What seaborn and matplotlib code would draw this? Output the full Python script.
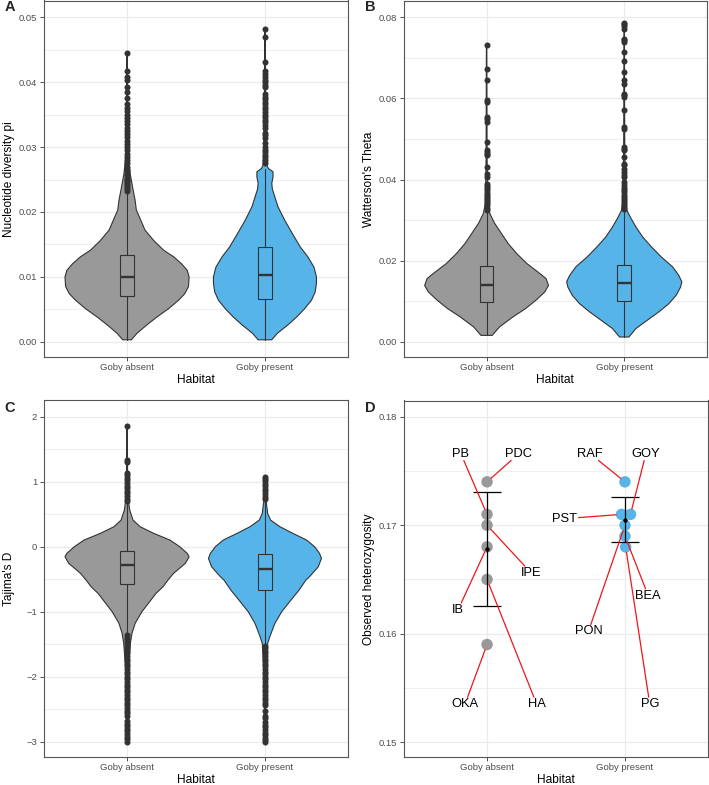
import numpy as np
import pandas as pd
import matplotlib
matplotlib.use("Agg")
import matplotlib.pyplot as plt
import seaborn as sns

# ---------------------------------------------------------------- data
habitats = ["Goby absent", "Goby present"]
habitat_colors = ["#999999", "#56B4E9"]

# Panel A: nucleotide diversity pi  (violin outline: value, relative density)
a_abs_vals = [0.0003, 0.0013, 0.0026, 0.0038, 0.0051, 0.0064, 0.0074, 0.0085, 0.0100, 0.0110,
              0.0120, 0.0131, 0.0141, 0.0156, 0.0172, 0.0192, 0.0203, 0.0218, 0.0238, 0.0259,
              0.0280, 0.0320, 0.0380, 0.0445]
a_abs_dens = [0.07, 0.16, 0.32, 0.48, 0.67, 0.83, 0.93, 0.99, 1.00, 0.97,
              0.88, 0.75, 0.59, 0.43, 0.29, 0.20, 0.15, 0.13, 0.09, 0.05,
              0.027, 0.013, 0.006, 0.003]
a_pre_vals = [0.0003, 0.0013, 0.0026, 0.0038, 0.0051, 0.0064, 0.0077, 0.0090, 0.0100, 0.0115,
              0.0131, 0.0146, 0.0167, 0.0187, 0.0208, 0.0223, 0.0235, 0.0244, 0.0254, 0.0262,
              0.0267, 0.0272, 0.0300, 0.0400, 0.0482]
a_pre_dens = [0.11, 0.20, 0.37, 0.51, 0.64, 0.75, 0.81, 0.83, 0.83, 0.79,
              0.69, 0.57, 0.44, 0.32, 0.21, 0.16, 0.12, 0.11, 0.13, 0.13,
              0.056, 0.032, 0.016, 0.006, 0.003]
# box stats: whisker low, q1, median, q3, whisker high
a_abs_box = [0.0003, 0.0070, 0.0100, 0.0134, 0.0229]
a_pre_box = [0.0003, 0.0066, 0.0103, 0.0146, 0.0266]
a_abs_out = [0.0232, 0.0235, 0.0238, 0.0241, 0.0244, 0.0247, 0.0250, 0.0253, 0.0257, 0.0261,
             0.0265, 0.0270, 0.0275, 0.0280, 0.0285, 0.0290, 0.0295, 0.0300, 0.0305, 0.0310,
             0.0315, 0.0320, 0.0325, 0.0330, 0.0335, 0.0340, 0.0345, 0.0350, 0.0355, 0.0360,
             0.0366, 0.0376, 0.0385, 0.0392, 0.0403, 0.0408, 0.0417, 0.0445]
a_pre_out = [0.0275, 0.0280, 0.0284, 0.0288, 0.0292, 0.0296, 0.0300, 0.0306, 0.0314, 0.0318,
             0.0322, 0.0330, 0.0334, 0.0338, 0.0342, 0.0346, 0.0350, 0.0354, 0.0358, 0.0362,
             0.0366, 0.0370, 0.0374, 0.0378, 0.0382, 0.0392, 0.0396, 0.0400, 0.0404, 0.0408,
             0.0413, 0.0418, 0.0431, 0.0469, 0.0482]
a_yticks = [0.00, 0.01, 0.02, 0.03, 0.04, 0.05]
a_yticklabels = ["0.00", "0.01", "0.02", "0.03", "0.04", "0.05"]
a_yminor = [0.005, 0.015, 0.025, 0.035, 0.045]
a_ylim = (-0.0024, 0.0526)

# Panel B: Watterson's theta
b_abs_vals = [0.0016, 0.0037, 0.0062, 0.0082, 0.0103, 0.0123, 0.0139, 0.0156, 0.0172, 0.0193,
              0.0217, 0.0242, 0.0267, 0.0292, 0.0316, 0.0340, 0.0450, 0.0732]
b_abs_dens = [0.09, 0.21, 0.43, 0.63, 0.80, 0.94, 1.00, 0.96, 0.83, 0.65,
              0.49, 0.35, 0.24, 0.13, 0.053, 0.021, 0.008, 0.003]
b_pre_vals = [0.0012, 0.0033, 0.0053, 0.0074, 0.0094, 0.0115, 0.0135, 0.0148, 0.0164, 0.0185,
              0.0209, 0.0234, 0.0258, 0.0283, 0.0304, 0.0324, 0.0350, 0.0500, 0.0785]
b_pre_dens = [0.075, 0.19, 0.37, 0.56, 0.72, 0.84, 0.91, 0.93, 0.88, 0.78,
              0.60, 0.44, 0.30, 0.19, 0.11, 0.043, 0.019, 0.008, 0.003]
b_abs_box = [0.0016, 0.0099, 0.0141, 0.0187, 0.0318]
b_pre_box = [0.0012, 0.0101, 0.0146, 0.0190, 0.0323]
b_abs_out = [0.0324, 0.0330, 0.0336, 0.0341, 0.0347, 0.0352, 0.0357, 0.0362, 0.0367, 0.0373,
             0.0378, 0.0383, 0.0390, 0.0406, 0.0414, 0.0432, 0.0460, 0.0464, 0.0468, 0.0472,
             0.0492, 0.0542, 0.0550, 0.0554, 0.0591, 0.0595, 0.0644, 0.0673, 0.0732]
b_pre_out = [0.0327, 0.0332, 0.0337, 0.0342, 0.0347, 0.0352, 0.0357, 0.0362, 0.0368, 0.0374,
             0.0380, 0.0386, 0.0394, 0.0406, 0.0410, 0.0418, 0.0427, 0.0435, 0.0439, 0.0455,
             0.0472, 0.0476, 0.0480, 0.0525, 0.0529, 0.0572, 0.0603, 0.0607, 0.0611, 0.0636,
             0.0644, 0.0665, 0.0693, 0.0714, 0.0738, 0.0743, 0.0747, 0.0771, 0.0777, 0.0782,
             0.0785]
b_yticks = [0.00, 0.02, 0.04, 0.06, 0.08]
b_yticklabels = ["0.00", "0.02", "0.04", "0.06", "0.08"]
b_yminor = [0.01, 0.03, 0.05, 0.07]
b_ylim = (-0.0038, 0.0841)

# Panel C: Tajima's D
c_abs_vals = [-3.0, -2.0, -1.49, -1.33, -1.18, -1.0, -0.82, -0.72, -0.615, -0.513,
              -0.41, -0.256, -0.154, -0.103, 0.0, 0.103, 0.205, 0.308, 0.41, 0.564,
              0.70, 1.2, 1.846]
c_abs_dens = [0.005, 0.013, 0.053, 0.08, 0.13, 0.24, 0.385, 0.465, 0.58, 0.66,
              0.75, 0.94, 1.00, 0.97, 0.85, 0.69, 0.43, 0.21, 0.096, 0.043,
              0.024, 0.008, 0.003]
c_pre_vals = [-3.0, -2.0, -1.49, -1.38, -1.18, -1.0, -0.82, -0.667, -0.513, -0.46,
              -0.308, -0.18, -0.103, 0.0, 0.103, 0.205, 0.308, 0.41, 0.513, 0.70, 1.07]
c_pre_dens = [0.005, 0.013, 0.043, 0.08, 0.16, 0.27, 0.42, 0.55, 0.66, 0.72,
              0.86, 0.91, 0.88, 0.80, 0.67, 0.45, 0.24, 0.09, 0.043, 0.019, 0.003]
c_abs_box = [-1.34, -0.579, -0.281, -0.066, 0.69]
c_pre_box = [-1.50, -0.673, -0.346, -0.113, 0.72]
c_abs_out = [0.70, 0.74, 0.78, 0.82, 0.86, 0.90, 0.94, 0.98, 1.02, 1.06, 1.10, 1.13, 1.30, 1.33, 1.85,
             -1.36, -1.40, -1.44, -1.48, -1.52, -1.56, -1.60, -1.64, -1.68, -1.72, -1.76, -1.80,
             -1.84, -1.88, -1.92, -1.96, -2.00, -2.04, -2.08, -2.12, -2.16, -2.20, -2.24, -2.28,
             -2.32, -2.36, -2.40, -2.44, -2.48, -2.52, -2.56, -2.60, -2.68, -2.72, -2.76, -2.80,
             -2.84, -2.88, -2.92, -2.96, -3.00]
c_pre_out = [0.73, 0.77, 0.81, 0.85, 0.89, 0.93, 0.97, 1.01, 1.04, 1.07,
             -1.52, -1.56, -1.60, -1.64, -1.68, -1.72, -1.76, -1.80, -1.84, -1.88, -1.92, -1.96,
             -2.00, -2.04, -2.08, -2.12, -2.16, -2.20, -2.24, -2.28, -2.32, -2.36, -2.40, -2.44,
             -2.52, -2.60, -2.64, -2.70, -2.74, -2.78, -2.82, -2.86, -2.90, -2.94, -2.97, -3.00]
c_yticks = [-3, -2, -1, 0, 1, 2]
c_yticklabels = ["\u22123", "\u22122", "\u22121", "0", "1", "2"]
c_yminor = [-2.5, -1.5, -0.5, 0.5, 1.5]
c_ylim = (-3.24, 2.257)

# Panel D: observed heterozygosity per site
d_site = ["PDC", "PB", "IPE", "IB", "HA", "OKA", "RAF", "GOY", "PST", "BEA", "PON", "PG"]
d_habitat = ["Goby absent"] * 6 + ["Goby present"] * 6
d_ho = [0.174, 0.171, 0.170, 0.168, 0.165, 0.159,
        0.174, 0.171, 0.171, 0.169, 0.170, 0.168]
d_dodge = [0, 0, 0, 0, 0, 0, 0, 0.04, -0.025, 0, 0, 0.005]
d_label_x = [0.23, -0.19, 0.32, -0.21, 0.36, -0.16, 0.747, 1.152, 0.559, 1.169, 0.735, 1.18]
d_label_y = [0.1766, 0.1766, 0.1656, 0.1622, 0.1535, 0.1535,
             0.1766, 0.1766, 0.1706, 0.1635, 0.1602, 0.1535]
d_yticks = [0.15, 0.16, 0.17, 0.18]
d_yticklabels = ["0.15", "0.16", "0.17", "0.18"]
d_yminor = [0.155, 0.165, 0.175]
d_ylim = (0.1486, 0.1815)

# ---------------------------------------------------------------- style
sns.set_theme(style="whitegrid")
plt.rcParams["font.family"] = ["Liberation Sans", "DejaVu Sans"]
EDGE = "#333333"
GRID = "#EBEBEB"
TICKC = "#4D4D4D"

W, H = 709, 785
fig = plt.figure(figsize=(W / 100, H / 100), dpi=100)
fig.patch.set_facecolor("white")


def rect(l, r, t, b):
    return [l / W, 1 - b / H, (r - l) / W, (b - t) / H]


axA = fig.add_axes(rect(44.3, 347.7, 0.5, 357.3))
axB = fig.add_axes(rect(404.0, 706.8, 0.5, 357.3))
axC = fig.add_axes(rect(44.3, 347.7, 400.0, 757.3))
axD = fig.add_axes(rect(404.3, 707.7, 400.5, 757.3))


def style_axes(ax, ylim, yticks, yticklabels, yminor, ylabel):
    ax.set_facecolor("white")
    ax.set_xlim(-0.6, 1.6)
    ax.set_ylim(*ylim)
    ax.set_xticks([0, 1])
    ax.set_xticklabels(habitats)
    ax.set_yticks(yticks)
    ax.set_yticklabels(yticklabels)
    ax.set_yticks(yminor, minor=True)
    ax.grid(False)
    ax.grid(which="major", axis="both", color=GRID, linewidth=0.9)
    ax.grid(which="minor", axis="y", color=GRID, linewidth=0.55)
    ax.set_axisbelow(True)
    for s in ax.spines.values():
        s.set_visible(True)
        s.set_color("#555555")
        s.set_linewidth(0.8)
    ax.tick_params(which="major", axis="both", bottom=True, left=True, length=2.8,
                   width=0.6, color=EDGE, labelcolor=TICKC, labelsize=6.8)
    ax.tick_params(which="major", axis="x", pad=1.6)
    ax.tick_params(which="major", axis="y", pad=2.2)
    ax.tick_params(which="minor", length=0)
    ax.set_xlabel("Habitat", fontsize=8.6, color="black", labelpad=0.8)
    ax.set_ylabel(ylabel, fontsize=8.6, color="black")
    ax.yaxis.set_label_coords(-0.095, 0.5)


def violin_panel(ax, profiles, boxes, outliers, ylim, yticks, yticklabels, yminor, ylabel):
    for i, (vals, dens) in enumerate(profiles):
        v = np.asarray(vals)
        half = 0.45 * np.asarray(dens)
        xs = np.concatenate([i - half, (i + half)[::-1]])
        ys = np.concatenate([v, v[::-1]])
        ax.fill(xs, ys, facecolor=habitat_colors[i], edgecolor=EDGE, linewidth=0.8, zorder=2)
    stats = [dict(whislo=b[0], q1=b[1], med=b[2], q3=b[3], whishi=b[4], fliers=[]) for b in boxes]
    res = ax.bxp(stats, positions=[0, 1], widths=0.1, patch_artist=True, showcaps=False,
                 showfliers=False, manage_ticks=False,
                 boxprops=dict(edgecolor=EDGE, linewidth=0.8),
                 medianprops=dict(color=EDGE, linewidth=1.7),
                 whiskerprops=dict(color=EDGE, linewidth=0.8), zorder=3)
    for i, patch in enumerate(res["boxes"]):
        patch.set_facecolor(habitat_colors[i])
    pos = []
    vals = []
    for i, o in enumerate(outliers):
        pos += [i] * len(o)
        vals += list(o)
    odf = pd.DataFrame({"pos": pos, "val": vals})
    sns.scatterplot(data=odf, x="pos", y="val", ax=ax, color=EDGE, s=19, linewidth=0,
                    legend=False, zorder=4)
    style_axes(ax, ylim, yticks, yticklabels, yminor, ylabel)


violin_panel(axA, [(a_abs_vals, a_abs_dens), (a_pre_vals, a_pre_dens)], [a_abs_box, a_pre_box],
             [a_abs_out, a_pre_out], a_ylim, a_yticks, a_yticklabels, a_yminor,
             "Nucleotide diversity pi")
violin_panel(axB, [(b_abs_vals, b_abs_dens), (b_pre_vals, b_pre_dens)], [b_abs_box, b_pre_box],
             [b_abs_out, b_pre_out], b_ylim, b_yticks, b_yticklabels, b_yminor,
             "Watterson's Theta")
violin_panel(axC, [(c_abs_vals, c_abs_dens), (c_pre_vals, c_pre_dens)], [c_abs_box, c_pre_box],
             [c_abs_out, c_pre_out], c_ylim, c_yticks, c_yticklabels, c_yminor,
             "Tajima's D")

# ---------------------------------------------------------------- panel D
ddf = pd.DataFrame({"site": d_site, "habitat": d_habitat, "ho": d_ho, "dodge": d_dodge,
                    "lx": d_label_x, "ly": d_label_y})
ddf["x"] = ddf["habitat"].map({h: i for i, h in enumerate(habitats)}) + ddf["dodge"]
sns.scatterplot(data=ddf, x="x", y="ho", hue="habitat", hue_order=habitats,
                palette=habitat_colors, s=68, linewidth=0, legend=False, ax=axD, zorder=3)
summary = ddf.groupby("habitat")["ho"].agg(["mean", "std"]).reindex(habitats)
for i, h in enumerate(habitats):
    m, sd = summary.loc[h, "mean"], summary.loc[h, "std"]
    axD.vlines(i, m - sd, m + sd, color="black", linewidth=0.9, zorder=4)
    axD.hlines([m - sd, m + sd], i - 0.1, i + 0.1, color="black", linewidth=0.9, zorder=4)
axD.scatter(range(len(habitats)), summary["mean"].values, color="black", s=10, zorder=5,
            linewidths=0)
style_axes(axD, d_ylim, d_yticks, d_yticklabels, d_yminor, "Observed heterozygosity")

texts = []
for _, row in ddf.iterrows():
    t = axD.text(row["lx"], row["ly"], row["site"], ha="center", va="center",
                 fontsize=9.3, color="black", zorder=7)
    texts.append(t)

fig.canvas.draw()
renderer = fig.canvas.get_renderer()
inv = axD.transData.inverted()
for t, (_, row) in zip(texts, ddf.iterrows()):
    bb = t.get_window_extent(renderer)
    cx, cy = (bb.x0 + bb.x1) / 2, (bb.y0 + bb.y1) / 2
    hw, hh = bb.width / 2 + 1.5, bb.height / 2 + 0.5
    px, py = axD.transData.transform((row["x"], row["ho"]))
    dx, dy = px - cx, py - cy
    dist = np.hypot(dx, dy)
    tx = hw / abs(dx) if dx != 0 else np.inf
    ty = hh / abs(dy) if dy != 0 else np.inf
    tt = min(tx, ty)
    sx, sy = cx + dx * tt, cy + dy * tt
    ex, ey = px - dx / dist * 5.0, py - dy / dist * 5.0
    (dsx, dsy), (dex, dey) = inv.transform([(sx, sy), (ex, ey)])
    axD.plot([dsx, dex], [dsy, dey], color="#F0161A", linewidth=0.9, zorder=6,
             solid_capstyle="butt")

# panel letters
for letter, (x, y) in zip("ABCD", [(10, 7), (370, 7), (10, 408), (370, 408)]):
    fig.text(x / W, 1 - y / H, letter, fontsize=10.5, fontweight="bold",
             ha="center", va="center")

fig.savefig("out.png", dpi=100, facecolor="white")
